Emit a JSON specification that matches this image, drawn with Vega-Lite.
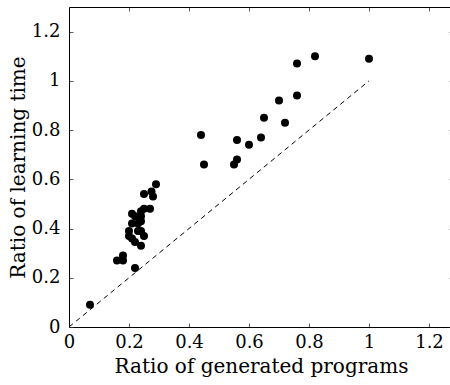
{
  "$schema": "https://vega.github.io/schema/vega-lite/v6.json",
  "width": 384,
  "height": 320,
  "autosize": {"type": "none"},
  "padding": {"left": 69, "top": 7, "right": 0, "bottom": 58},
  "background": "white",
  "config": {
    "view": {"stroke": null},
    "font": "DejaVu Serif",
    "axis": {
      "domainColor": "black",
      "domainWidth": 1,
      "tickColor": "#333333",
      "tickWidth": 0.8,
      "tickSize": -4,
      "grid": false,
      "labelFont": "DejaVu Serif",
      "labelFontSize": 18,
      "labelColor": "black",
      "titleFont": "DejaVu Serif",
      "titleFontSize": 20,
      "titleFontWeight": "normal",
      "titleColor": "black",
      "labelFlush": false,
      "labelOverlap": false
    }
  },
  "layer": [
    {
      "data": {"values": [{"x": 0, "y": 0, "x2": 1, "y2": 1}]},
      "mark": {"type": "rule", "strokeDash": [5, 4], "color": "black", "strokeWidth": 1},
      "encoding": {
        "x": {"field": "x", "type": "quantitative", "scale": {"domain": [0, 1.28], "nice": false},
              "axis": {"orient": "top", "labels": false, "title": null, "values": [0, 0.2, 0.4, 0.6, 0.8, 1, 1.2]}},
        "y": {"field": "y", "type": "quantitative", "scale": {"domain": [0, 1.3], "nice": false},
              "axis": {"orient": "right", "labels": false, "title": null, "values": [0, 0.2, 0.4, 0.6, 0.8, 1, 1.2]}},
        "x2": {"field": "x2"},
        "y2": {"field": "y2"}
      }
    },
    {
      "data": {"values": [
        {"programs": 0.07, "time": 0.09},
        {"programs": 0.16, "time": 0.27},
        {"programs": 0.18, "time": 0.29},
        {"programs": 0.18, "time": 0.27},
        {"programs": 0.22, "time": 0.24},
        {"programs": 0.20, "time": 0.37},
        {"programs": 0.20, "time": 0.39},
        {"programs": 0.21, "time": 0.36},
        {"programs": 0.22, "time": 0.345},
        {"programs": 0.24, "time": 0.33},
        {"programs": 0.23, "time": 0.39},
        {"programs": 0.25, "time": 0.37},
        {"programs": 0.24, "time": 0.39},
        {"programs": 0.21, "time": 0.42},
        {"programs": 0.22, "time": 0.45},
        {"programs": 0.21, "time": 0.46},
        {"programs": 0.24, "time": 0.45},
        {"programs": 0.24, "time": 0.47},
        {"programs": 0.25, "time": 0.48},
        {"programs": 0.27, "time": 0.48},
        {"programs": 0.23, "time": 0.42},
        {"programs": 0.24, "time": 0.43},
        {"programs": 0.25, "time": 0.54},
        {"programs": 0.275, "time": 0.55},
        {"programs": 0.28, "time": 0.53},
        {"programs": 0.29, "time": 0.58},
        {"programs": 0.44, "time": 0.78},
        {"programs": 0.45, "time": 0.66},
        {"programs": 0.55, "time": 0.66},
        {"programs": 0.56, "time": 0.68},
        {"programs": 0.56, "time": 0.76},
        {"programs": 0.60, "time": 0.74},
        {"programs": 0.64, "time": 0.77},
        {"programs": 0.65, "time": 0.85},
        {"programs": 0.72, "time": 0.83},
        {"programs": 0.70, "time": 0.92},
        {"programs": 0.76, "time": 0.94},
        {"programs": 0.76, "time": 1.07},
        {"programs": 0.82, "time": 1.10},
        {"programs": 1.00, "time": 1.09}
      ]},
      "mark": {"type": "circle", "size": 64, "color": "black", "opacity": 1},
      "encoding": {
        "x": {"field": "programs", "type": "quantitative", "scale": {"domain": [0, 1.28], "nice": false},
              "axis": {"title": "Ratio of generated programs", "values": [0, 0.2, 0.4, 0.6, 0.8, 1, 1.2], "format": "~g", "labelPadding": 10, "titlePadding": 5}},
        "y": {"field": "time", "type": "quantitative", "scale": {"domain": [0, 1.3], "nice": false},
              "axis": {"title": "Ratio of learning time", "values": [0, 0.2, 0.4, 0.6, 0.8, 1, 1.2], "format": "~g", "labelPadding": 13, "titlePadding": 3}}
      }
    }
  ],
  "resolve": {"axis": {"x": "independent", "y": "independent"}}
}
